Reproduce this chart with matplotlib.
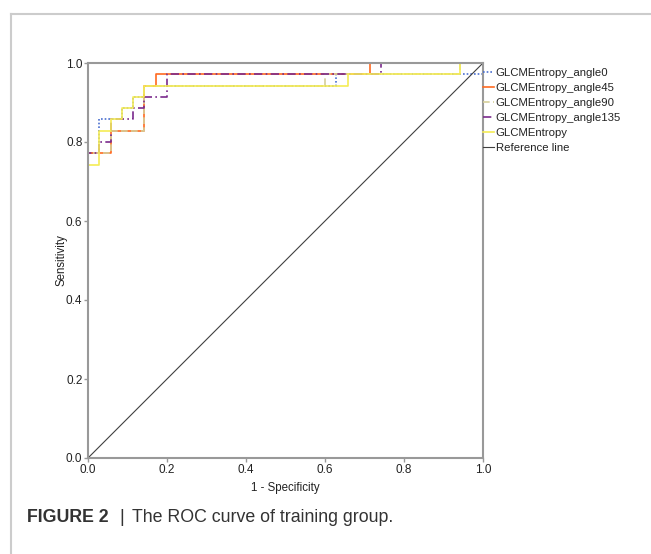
import matplotlib.pyplot as plt
from matplotlib.lines import Line2D

plt.rcParams['font.family'] = ['Liberation Sans', 'DejaVu Sans']

# ROC step vertices, in counts (35 negatives, 35 positives)
n_neg = 35
n_pos = 35
labels = ['GLCMEntropy_angle0', 'GLCMEntropy_angle45', 'GLCMEntropy_angle90',
          'GLCMEntropy_angle135', 'GLCMEntropy']
fp_angle0 = [0, 0, 1, 1, 2, 2, 3, 3, 4, 4, 5, 5, 22, 22, 35, 35]
tp_angle0 = [0, 27, 27, 30, 30, 30, 30, 31, 31, 32, 32, 33, 33, 34, 34, 35]
fp_angle45 = [0, 0, 2, 2, 5, 5, 6, 6, 25, 25, 35]
tp_angle45 = [0, 27, 27, 29, 29, 33, 33, 34, 34, 35, 35]
fp_angle90 = [0, 0, 2, 2, 5, 5, 21, 21, 33, 33, 35]
tp_angle90 = [0, 27, 27, 29, 29, 33, 33, 34, 34, 35, 35]
fp_angle135 = [0, 0, 1, 1, 2, 2, 4, 4, 5, 5, 7, 7, 26, 26, 35]
tp_angle135 = [0, 27, 27, 28, 28, 30, 30, 31, 31, 32, 32, 34, 34, 35, 35]
fp_entropy = [0, 0, 1, 1, 2, 2, 3, 3, 4, 4, 5, 5, 23, 23, 33, 33, 35]
tp_entropy = [0, 26, 26, 29, 29, 30, 30, 31, 31, 32, 32, 33, 33, 34, 34, 35, 35]
ticks = [0.0, 0.2, 0.4, 0.6, 0.8, 1.0]

curves = [
    (fp_angle0, tp_angle0, '#4a6fd0', (0, (1, 1.2))),
    (fp_angle45, tp_angle45, '#ff6a20', '-'),
    (fp_angle90, tp_angle90, '#d6cf9a', (0, (4, 2))),
    (fp_angle135, tp_angle135, '#7a2a8c', (0, (5, 2, 1, 2))),
    (fp_entropy, tp_entropy, '#f5ec55', '-'),
]

fig = plt.figure(figsize=(6.51, 5.54), dpi=100)

# light frame around the figure panel
fig.add_artist(Line2D([11 / 651, 1.0], [1 - 14 / 554] * 2, color='#cccccc', lw=1.5))
fig.add_artist(Line2D([11 / 651] * 2, [0.0, 1 - 14 / 554], color='#cccccc', lw=1.5))

ax = fig.add_axes([88 / 651, 1 - 458 / 554, 395 / 651, 395 / 554])
handles = []
for (fp, tp, col, ls), lab in zip(curves, labels):
    h, = ax.plot([v / n_neg for v in fp], [v / n_pos for v in tp],
                 color=col, ls=ls, lw=1.2, label=lab)
    handles.append(h)
h, = ax.plot([0, 1], [0, 1], color='#404040', lw=0.8, label='Reference line')
handles.append(h)

ax.set_xlim(0, 1)
ax.set_ylim(0, 1)
ax.set_xticks(ticks)
ax.set_yticks(ticks)
ax.set_xticklabels(['%.1f' % t for t in ticks])
ax.set_yticklabels(['%.1f' % t for t in ticks])
for s in ax.spines.values():
    s.set_color('#999999')
    s.set_linewidth(1.5)
ax.tick_params(colors='#999999', labelcolor='#222222', labelsize=8.5,
               length=3, width=1, pad=1)
ax.set_xlabel('1 - Specificity', fontsize=8.3, color='#222222', labelpad=5)
ax.set_ylabel('Sensitivity', fontsize=8.3, color='#222222', labelpad=-1)

leg = ax.legend(handles=handles, loc='upper left', bbox_to_anchor=(1.0, 0.987),
                frameon=False, fontsize=8.2, handlelength=0.95, handletextpad=0.15,
                labelspacing=0.44, borderaxespad=0, borderpad=0)
for t in leg.get_texts():
    t.set_color('#222222')

fig.text(27 / 651, 1 - 517 / 554, 'FIGURE 2', fontsize=12.8, fontweight='bold',
         color='#333333', va='center')
fig.text(119 / 651, 1 - 517 / 554, '|', fontsize=12.8, color='#333333', va='center')
fig.text(132 / 651, 1 - 517 / 554, 'The ROC curve of training group.', fontsize=12.8,
         color='#333333', va='center')

fig.savefig('out.png', dpi=100)
